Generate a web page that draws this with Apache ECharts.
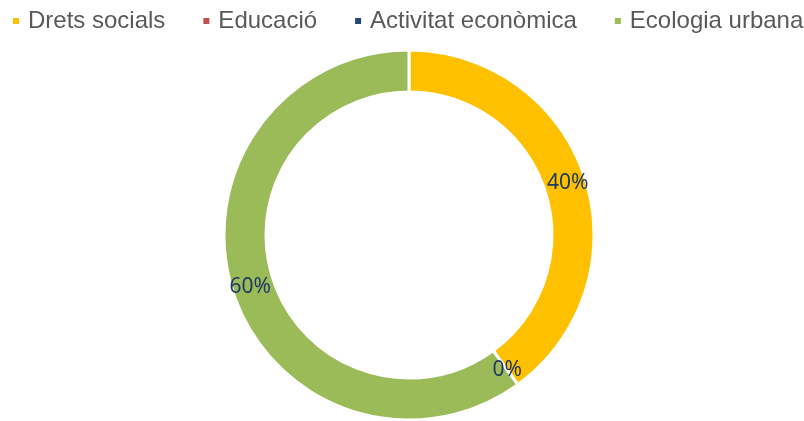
<!DOCTYPE html>
<html>
<head>
<meta charset="utf-8">
<script src="https://cdn.jsdelivr.net/npm/echarts@6/dist/echarts.min.js"></script>
<style>
  html, body { margin: 0; padding: 0; background: #fff; }
  #chart { width: 804px; height: 421px; }
</style>
</head>
<body>
<div id="chart"></div>
<script>
// dades
var categories = ["Drets socials", "Educació", "Activitat econòmica", "Ecologia urbana"];
var values = [40, 0, 0, 60];
var colors = ["#FFC000", "#C0504D", "#1F497D", "#9BBB59"];

var myChart = echarts.init(document.getElementById("chart"));
myChart.setOption({
  animation: false,
  color: colors,
  legend: {
    data: categories,
    left: 11,
    top: 9,
    width: 1000,
    padding: 0,
    icon: "rect",
    itemWidth: 8,
    itemHeight: 8,
    itemGap: 36,
    textStyle: {
      fontFamily: "Liberation Sans, Arial, sans-serif",
      fontSize: 24,
      color: "#595959",
      padding: [0, 0, 0, 3]
    }
  },
  series: [
    {
      type: "pie",
      center: [409, 235],
      radius: [143, 185],
      startAngle: 90,
      clockwise: true,
      stillShowZeroSum: true,
      itemStyle: {
        borderColor: "#fff",
        borderWidth: 3
      },
      label: {
        show: true,
        position: "inside",
        formatter: "{d}%",
        fontFamily: "Noto Sans, sans-serif",
        fontSize: 21,
        color: "#1F3864"
      },
      labelLine: { show: false },
      emphasis: { disabled: true },
      data: categories.map(function (name, i) {
        return { name: name, value: values[i] };
      })
    }
  ]
});
</script>
</body>
</html>
